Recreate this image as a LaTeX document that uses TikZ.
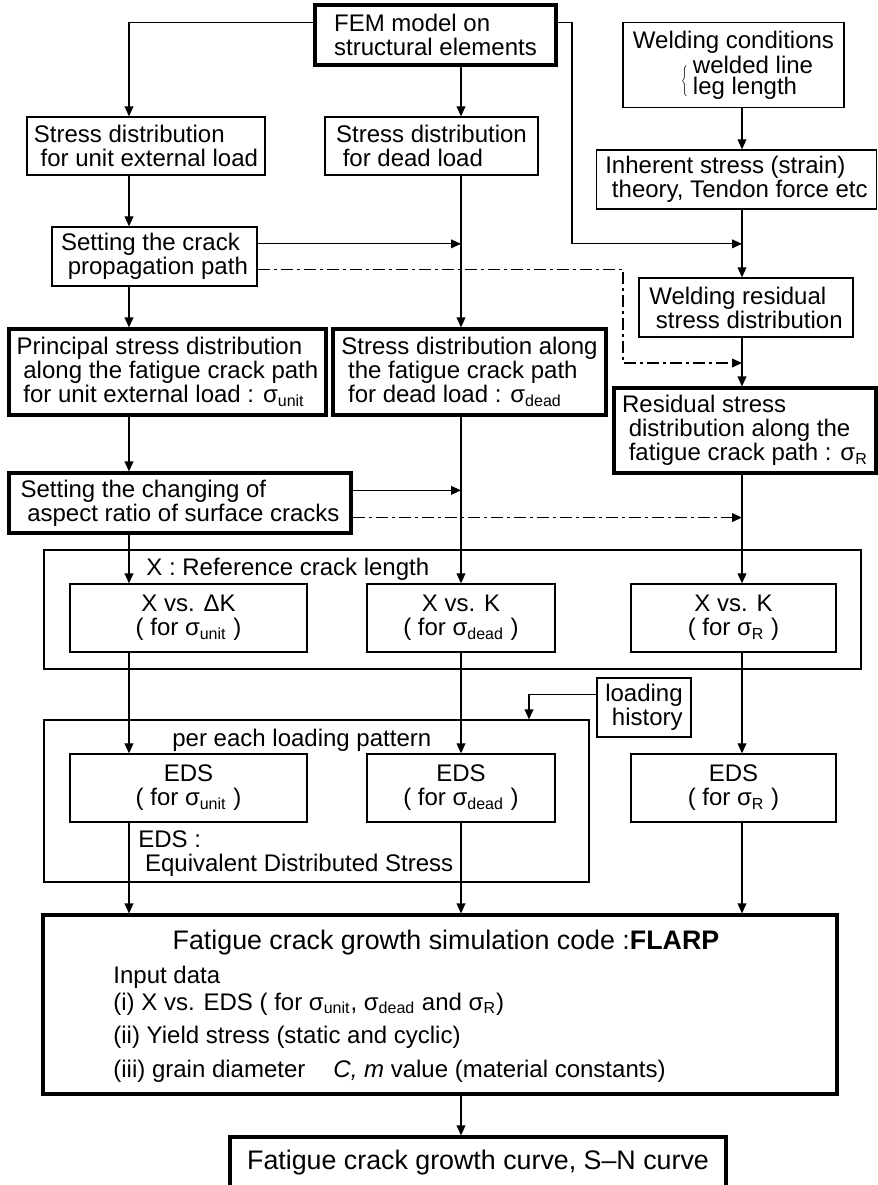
\documentclass[tikz,border=0pt]{standalone}
\usepackage{fontspec}
\setmainfont{Liberation Sans}
\usetikzlibrary{positioning,arrows.meta,calc}
\newcommand{\sgm}[1]{σ\textsubscript{#1}}
\tikzset{
  blk/.style={draw,line width=0.65pt,align=left,inner sep=0pt},
  thkblk/.style={blk,line width=1.6pt},
  frame/.style={draw,line width=0.65pt,inner sep=0pt},
  lbl/.style={inner sep=0pt,align=left},
  flow/.style={-{Triangle[length=5pt,width=4.4pt]},line width=0.6pt},
  chain/.style={flow,dash pattern=on 6pt off 2pt on 1.5pt off 2pt},
}

\begin{document}
\begin{tikzpicture}[x=0.5pt,y=-0.5pt,font=\fontsize{12}{12}\selectfont]
  \useasboundingbox (0,0) rectangle (878,1185);
  % columns of the flow
  \coordinate (cu) at (129,0);
  \coordinate (cd) at (461,0);
  \coordinate (cr) at (742,0);
  \coordinate (bendfem) at (572,0);
  \coordinate (bendcp) at (623,363);
  \coordinate (chist) at (529,0);
  % top rows
  \node[thkblk,minimum width=120.5pt,minimum height=30pt] (fem) at (435.5,35) {FEM model on\\structural elements};
  \node[blk,minimum width=119pt,minimum height=29pt] (unitsd) at (146,146) {Stress distribution\\~for unit external load};
  \node[blk,minimum width=106.5pt,minimum height=29pt] (deadsd) at (431.5,146) {Stress distribution\\~for dead load};
  \node[blk,minimum width=110.5pt,minimum height=42.5pt] (weldcond) at (733.5,65) {Welding conditions\\[0.5pt]\hspace*{2.5em}\llap{\raisebox{-6.4pt}[0pt][0pt]{\scalebox{0.5}[0.85]{$\Big\{$}}\hspace{2.5pt}}welded line\\[-1.5pt]\hspace*{2.5em}leg length};
  \node[blk,minimum width=140pt,minimum height=29.5pt] (inherent) at (736.5,179.5) {Inherent stress (strain)\\~theory, Tendon force etc};
  \node[blk,minimum width=102.5pt,minimum height=29.5pt] (croppath) at (154.5,256.5) {Setting the crack\\~propagation path};
  \node[blk,minimum width=107pt,minimum height=29.5pt] (weldres) at (746,307.5) {Welding residual\\~stress distribution};
  % stress along the path
  \node[thkblk,minimum width=158.5pt,minimum height=43pt] (princ) at (167.5,372) {Principal stress distribution\\~along the fatigue crack path\\~for unit external load : \sgm{unit}};
  \node[thkblk,minimum width=136.5pt,minimum height=43pt] (deadpath) at (469.5,372) {Stress distribution along\\~the fatigue crack path\\~for dead load : \sgm{dead}};
  \node[thkblk,minimum width=131pt,minimum height=42.5pt] (respath) at (745,430.5) {Residual stress\\~distribution along the\\~fatigue crack path : \sgm{R}};
  \node[thkblk,minimum width=171pt,minimum height=30pt] (aspect) at (180,503) {Setting the changing of\\~aspect ratio of surface cracks};
  % reference crack length
  \node[frame,minimum width=408.5pt,minimum height=59.5pt] (xref) at (452.5,609.5) {};
  \node[lbl,anchor=base west] (xreflbl) at (146,575) {X : Reference crack length};
  \node[blk,align=center,minimum width=118.5pt,minimum height=34pt] (xdk) at (188.5,618) {X vs. ΔK\\( for \sgm{unit} )};
  \node[blk,align=center,minimum width=94pt,minimum height=34pt] (xkd) at (461,618) {X vs. K\\( for \sgm{dead} )};
  \node[blk,align=center,minimum width=102.5pt,minimum height=34pt] (xkr) at (733.5,618) {X vs. K\\( for \sgm{R} )};
  % loading pattern
  \node[frame,minimum width=272.5pt,minimum height=81pt] (loadpat) at (316.5,801) {};
  \node[lbl,anchor=base west] (patlbl) at (172,746) {per each loading pattern};
  \node[blk,minimum width=47pt,minimum height=29.5pt] (hist) at (644,707.5) {loading\\~history};
  \node[blk,align=center,minimum width=118.5pt,minimum height=34pt] (edsu) at (188.5,788) {EDS\\( for \sgm{unit} )};
  \node[blk,align=center,minimum width=94pt,minimum height=34pt] (edsd) at (461,788) {EDS\\( for \sgm{dead} )};
  \node[blk,align=center,minimum width=102.5pt,minimum height=34pt] (edsr) at (733.5,788) {EDS\\( for \sgm{R} )};
  \node[lbl,anchor=north west] (edsnote) at (138,830) {EDS :\\~Equivalent Distributed Stress};
  % simulation code
  \node[thkblk,minimum width=397pt,minimum height=89.5pt] (flarp) at (440,1004.5) {};
  \node[lbl,anchor=base,font=\fontsize{13.4}{13.4}\selectfont] (flarpttl) at (446,949) {Fatigue crack growth simulation code :\textbf{FLARP}};
  \foreach \yb/\txt [count=\k] in {983/{Input data},
      1010/{(i) X vs. EDS ( for \sgm{unit}, \sgm{dead} and \sgm{R})},
      1043/{(ii) Yield stress (static and cyclic)},
      1077/{(iii) grain diameter\hspace{14pt}\textit{C, m} value (material constants)}}
    \node[lbl,anchor=base west] (inp\k) at (113,\yb) {\txt};
  \node[thkblk,align=center,font=\fontsize{13.4}{13.4}\selectfont,minimum width=248pt,minimum height=25.5pt] (sn) at (478,1162.5) {Fatigue crack growth curve, S–N curve};
  % exit points on box sides
  \coordinate (femL) at ($(fem.north west)!.3!(fem.south west)$);
  \coordinate (femR) at ($(fem.north east)!.3!(fem.south east)$);
  \coordinate (cpS) at ($(croppath.north east)!.29!(croppath.south east)$);
  \coordinate (cpD) at ($(croppath.north east)!.71!(croppath.south east)$);
  \coordinate (asS) at ($(aspect.north east)!.3!(aspect.south east)$);
  \coordinate (asD) at ($(aspect.north east)!.73!(aspect.south east)$);
  \coordinate (hsW) at ($(hist.north west)!.29!(hist.south west)$);
  % unit load column
  \draw[flow] (femL) -| (unitsd.north -| cu);
  \draw[flow] (unitsd.south -| cu) -- (croppath.north -| cu);
  \draw[flow] (croppath.south -| cu) -- (princ.north -| cu);
  \draw[flow] (princ.south -| cu) -- (aspect.north -| cu);
  \draw[flow] (aspect.south -| cu) -- (xdk.north -| cu);
  \draw[flow] (xdk.south -| cu) -- (edsu.north -| cu);
  \draw[flow] (edsu.south -| cu) -- (flarp.north -| cu);
  % dead load column
  \draw[flow] (fem.south -| cd) -- (deadsd.north -| cd);
  \draw[flow] (deadsd.south -| cd) -- (deadpath.north -| cd);
  \draw[flow] (deadpath.south -| cd) -- (xkd.north);
  \draw[flow] (xkd.south) -- (edsd.north);
  \draw[flow] (edsd.south) -- (flarp.north -| cd);
  \draw[flow] (flarp.south -| cd) -- (sn.north -| cd);
  % residual stress column
  \draw[flow] (weldcond.south -| cr) -- (inherent.north -| cr);
  \draw[flow] (inherent.south -| cr) -- (weldres.north -| cr);
  \draw[flow] (weldres.south -| cr) -- (respath.north -| cr);
  \draw[flow] (respath.south -| cr) -- (xkr.north -| cr);
  \draw[flow] (xkr.south -| cr) -- (edsr.north -| cr);
  \draw[flow] (edsr.south -| cr) -- (flarp.north -| cr);
  % cross links
  \draw[flow] (femR) -| (bendfem |- cpS) -- (cpS -| cr);
  \draw[flow] (cpS) -- (cpS -| cd);
  \draw[chain] (cpD) -| (bendcp) -- (bendcp -| cr);
  \draw[flow] (asS) -- (asS -| cd);
  \draw[chain] (asD) -- (asD -| cr);
  \draw[flow] (hsW) -| (loadpat.north -| chist);
\end{tikzpicture}
\end{document}
